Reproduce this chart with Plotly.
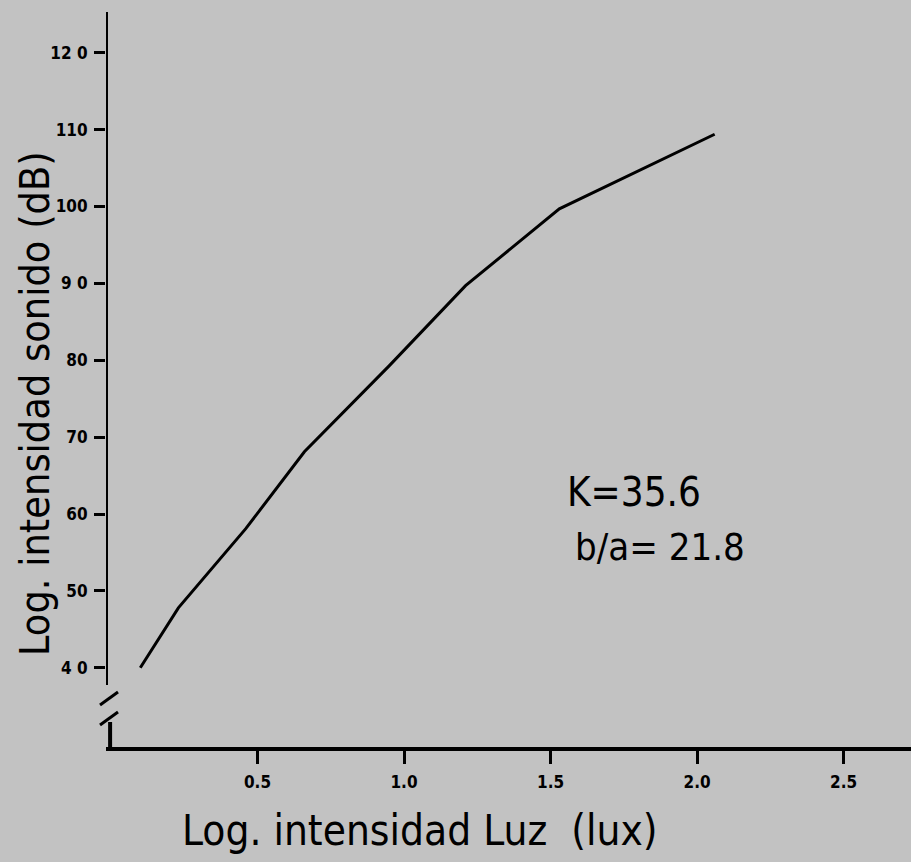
import plotly.graph_objects as go

# Data
luz_log = [0.10, 0.23, 0.46, 0.66, 0.95, 1.21, 1.53, 2.06]
sonido_db = [40.0, 47.8, 58.1, 68.1, 79.3, 89.7, 99.7, 109.4]

x_ticks = [0.5, 1.0, 1.5, 2.0, 2.5]
x_tick_labels = ["0.5", "1.0", "1.5", "2.0", "2.5"]
y_ticks = [40, 50, 60, 70, 80, 90, 100, 110, 120]
y_tick_labels = ["4 0", "50", "60", "70", "80", "9 0", "100", "110", "12 0"]

params = ["K=35.6", "b/a= 21.8"]

BG = "#c2c2c2"
FONT = "DejaVu Sans Condensed, DejaVu Sans"

fig = go.Figure()
fig.add_trace(go.Scatter(
    x=luz_log, y=sonido_db, mode="lines",
    line=dict(color="black", width=3), showlegend=False, hoverinfo="skip"))

fig.update_layout(
    width=911, height=862,
    margin=dict(l=106, r=0, t=12, b=115),
    paper_bgcolor=BG, plot_bgcolor=BG,
    font=dict(family=FONT, color="black"),
    xaxis=dict(range=[-0.017, 2.73], showgrid=False, zeroline=False,
               showline=True, linecolor="black", linewidth=4,
               ticks="outside", ticklen=13, tickwidth=3, tickcolor="black",
               tickvals=x_ticks, ticktext=x_tick_labels,
               tickfont=dict(family=FONT, size=17, color="black", weight="bold"),
               ticklabelstandoff=4),
    yaxis=dict(range=[29.7, 125.3], showgrid=False, zeroline=False,
               showline=False,
               ticks="outside", ticklen=11, tickwidth=3, tickcolor="black",
               tickvals=y_ticks, ticktext=y_tick_labels,
               tickfont=dict(family=FONT, size=17, color="black", weight="bold"),
               ticklabelstandoff=3),
)

# y axis line with a break near the bottom
fig.add_shape(type="line", xref="x", yref="paper", x0=-0.017, x1=-0.017,
              y0=(747 - 685) / 735, y1=1.0, line=dict(color="black", width=4))
fig.add_shape(type="line", xref="x", yref="paper", x0=-0.003, x1=-0.003,
              y0=0, y1=(747 - 722) / 735, line=dict(color="black", width=4))
for y0p, y1p in [(705, 692), (725, 712)]:
    fig.add_shape(type="line", xref="paper", yref="paper",
                  x0=(100 - 106) / 805, x1=(118 - 106) / 805,
                  y0=(747 - y0p) / 735, y1=(747 - y1p) / 735,
                  line=dict(color="black", width=3))

# parameter annotations
fig.add_annotation(x=1.55, y=62.9, text=params[0], showarrow=False,
                   xanchor="left", yanchor="middle",
                   font=dict(family=FONT, size=40, color="black"))
fig.add_annotation(x=1.577, y=55.7, text=params[1], showarrow=False,
                   xanchor="left", yanchor="middle",
                   font=dict(family=FONT, size=38, color="black"))

# axis titles
fig.add_annotation(xref="paper", yref="paper", x=(420 - 106) / 805,
                   y=(747 - 830) / 735, text="Log. intensidad Luz  (lux)",
                   showarrow=False, xanchor="center", yanchor="middle",
                   font=dict(family=FONT, size=42, color="black"))
fig.add_annotation(xref="paper", yref="paper", x=(35 - 106) / 805,
                   y=(747 - 404) / 735, text="Log. intensidad sonido (dB)",
                   textangle=-90, showarrow=False, xanchor="center",
                   yanchor="middle",
                   font=dict(family=FONT, size=41, color="black"))

fig.write_html(
    "out.html",
    config={"displayModeBar": False},
    post_script="document.body.style.margin='0';"
                "document.body.style.overflow='hidden';"
                "document.body.style.background='" + BG + "';")
